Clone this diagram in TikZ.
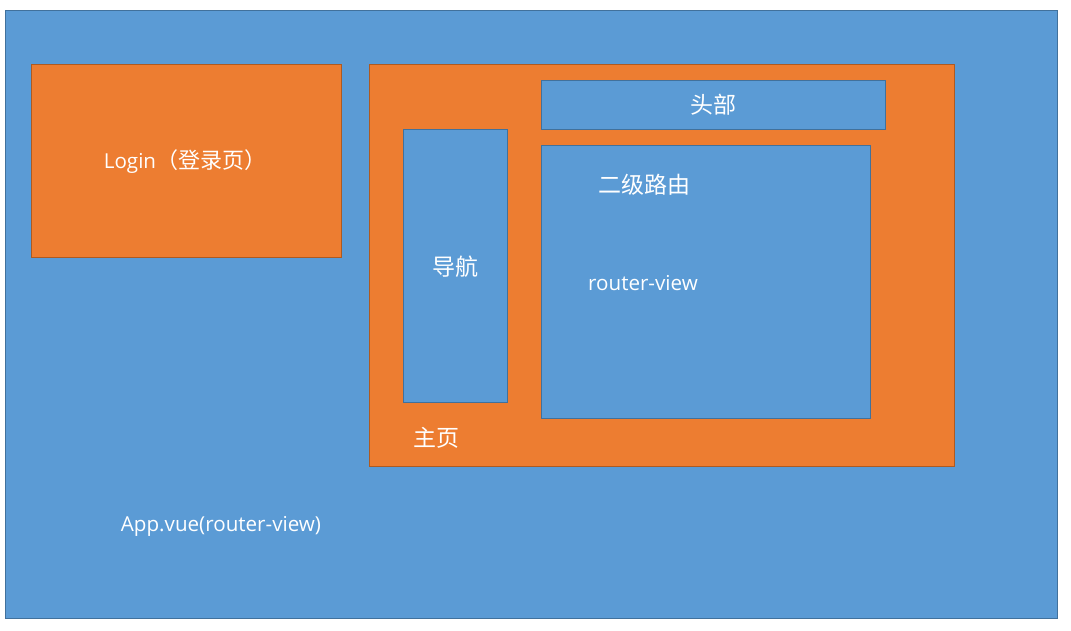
\documentclass[tikz,border=0pt]{standalone}
\usepackage{fontspec}
\setmainfont{Open Sans}
\newfontfamily\cjk{Noto Sans CJK SC}
\definecolor{bfill}{HTML}{5B9BD5}
\definecolor{bline}{HTML}{41719C}
\definecolor{ofill}{HTML}{ED7D31}
\definecolor{oline}{HTML}{AE5A21}
\begin{document}
\begin{tikzpicture}[x=1pt,y=-1pt,
  bluebox/.style={fill=bfill,draw=bline,line width=1pt},
  orangebox/.style={fill=ofill,draw=oline,line width=1pt},
  lbl/.style={text=white,inner sep=0pt,font=\fontsize{20.6}{24}\selectfont},
  cjklbl/.style={text=white,inner sep=0pt,font=\cjk\fontsize{23}{27}\selectfont}]
\useasboundingbox[fill=white] (0,0) rectangle (1071,630);
\draw[bluebox] (5,10) rectangle (1057,618) coordinate (appbr);
\node[lbl] (app) at (221,526) {App.vue(router-view)};
\draw[orangebox] (31,64) rectangle (341,257);
\node[lbl] (login) at (185,161.5) {Login{\cjk\fontsize{22}{26}\selectfont （登录页）}};
\draw[orangebox] (369,64) rectangle (954,466);
\node[cjklbl] (home) at (436,438) {主页};
\draw[bluebox] (541,80) rectangle (885,129);
\node[cjklbl] (head) at (713,105) {头部};
\draw[bluebox] (403,129) rectangle (507,402);
\node[cjklbl] (nav) at (455,267) {导航};
\draw[bluebox] (541,145) rectangle (870,418);
\node[cjklbl] (sub) at (644,185) {二级路由};
\node[lbl] (rv) at (643,283) {router-view};
\end{tikzpicture}
\end{document}
